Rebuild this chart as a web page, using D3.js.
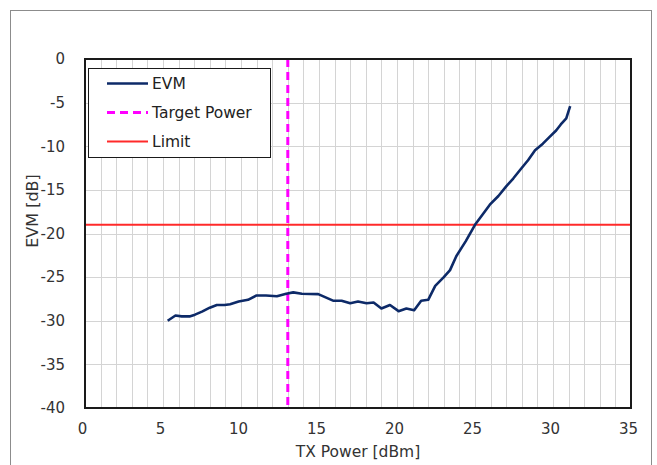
<!DOCTYPE html>
<html><head><meta charset="utf-8">
<script src="https://cdn.jsdelivr.net/npm/d3@7"></script>
<style>body{margin:0;background:#fff;}svg{display:block;font-family:"DejaVu Sans",Verdana,sans-serif;}</style>
</head><body>
<svg id="c" width="657" height="465"></svg>
<script>
const txPower = [5.3,5.8,6.2,6.7,7.05,7.5,8.0,8.45,8.95,9.3,9.85,10.45,11.0,11.6,12.3,12.9,13.35,13.9,14.95,15.9,16.45,17.0,17.5,18.05,18.5,19.0,19.55,20.1,20.6,21.1,21.55,22.0,22.45,23.0,23.4,23.8,24.4,25.0,25.5,25.95,26.5,27.0,27.45,27.9,28.4,28.85,29.35,29.8,30.2,30.5,30.85,31.1];
const evm = [-30.0,-29.4,-29.5,-29.5,-29.3,-28.95,-28.5,-28.2,-28.2,-28.1,-27.8,-27.6,-27.1,-27.1,-27.2,-26.9,-26.75,-26.9,-26.95,-27.7,-27.7,-28.0,-27.8,-28.0,-27.9,-28.6,-28.2,-28.9,-28.6,-28.8,-27.7,-27.6,-26.0,-25.0,-24.2,-22.6,-20.9,-19.0,-17.8,-16.7,-15.7,-14.6,-13.7,-12.7,-11.6,-10.45,-9.7,-8.9,-8.2,-7.5,-6.8,-5.4];
const targetPower = 13.0;
const limitEVM = -19;
const xTicks = [0,5,10,15,20,25,30,35];
const yTicks = [0,-5,-10,-15,-20,-25,-30,-35,-40];
const legendLabels = ["EVM","Target Power","Limit"];

const svg = d3.select("#c");
const L=85, R=631, T=59, B=408;
const x = d3.scaleLinear().domain([0,35]).range([L,R]);
const y = d3.scaleLinear().domain([-40,0]).range([B,T]);
const fmt = d => String(d);

svg.append("rect").attr("x",10.5).attr("y",10.5).attr("width",641).attr("height",460).attr("fill","#fff").attr("stroke","#8c8c8c");

// grid
svg.append("g").selectAll("line").data(d3.range(1,35)).join("line")
  .attr("x1",d=>Math.round(x(d))+0.5).attr("x2",d=>Math.round(x(d))+0.5).attr("y1",T).attr("y2",B)
  .attr("stroke","#d4d4d4").attr("stroke-width",1);
svg.append("g").selectAll("line").data(d3.range(-35,0,5)).join("line")
  .attr("y1",d=>Math.round(y(d))+0.5).attr("y2",d=>Math.round(y(d))+0.5).attr("x1",L).attr("x2",R)
  .attr("stroke","#d4d4d4").attr("stroke-width",1);

// axes labels
const xa = d3.axisBottom(x).tickValues(xTicks).tickFormat(fmt).tickSize(0).tickPadding(15);
const gx = svg.append("g").attr("transform",`translate(0,${B})`).call(xa);
gx.select(".domain").remove();
gx.selectAll("text").attr("font-size",15).attr("fill","#333").attr("dx",-3).attr("font-family","DejaVu Sans, Verdana, sans-serif");
const ya = d3.axisLeft(y).tickValues(yTicks).tickFormat(fmt).tickSize(0).tickPadding(20);
const gy = svg.append("g").attr("transform",`translate(${L},0)`).call(ya);
gy.select(".domain").remove();
gy.selectAll("text").attr("font-size",15).attr("fill","#333").attr("font-family","DejaVu Sans, Verdana, sans-serif");

svg.append("text").attr("x",(L+R)/2).attr("y",457).attr("text-anchor","middle").attr("font-size",15.5).attr("fill","#333").text("TX Power [dBm]");
svg.append("text").attr("transform",`translate(38,211) rotate(-90)`).attr("text-anchor","middle").attr("font-size",16).attr("fill","#333").text("EVM [dB]");

// limit
svg.append("line").attr("x1",L).attr("x2",R).attr("y1",y(limitEVM)).attr("y2",y(limitEVM)).attr("stroke","#ff2a2a").attr("stroke-width",2);
// target
svg.append("line").attr("x1",x(targetPower)).attr("x2",x(targetPower)).attr("y1",T).attr("y2",B).attr("stroke","#ff00ff").attr("stroke-width",3).attr("stroke-dasharray","8,5");
// evm
const data = txPower.map((d,i)=>[d,evm[i]]);
svg.append("path").datum(data).attr("fill","none").attr("stroke","#0d2a68").attr("stroke-width",2.6).attr("stroke-linejoin","round")
  .attr("d",d3.line().x(d=>x(d[0])).y(d=>y(d[1])));

// frame
svg.append("rect").attr("x",L).attr("y",T).attr("width",R-L).attr("height",B-T).attr("fill","none").attr("stroke","#1a1a1a").attr("stroke-width",2);

// legend
const lg = svg.append("g");
lg.append("rect").attr("x",88.5).attr("y",68.5).attr("width",182).attr("height",89).attr("fill","#fff").attr("stroke","#1a1a1a").attr("stroke-width",1);
const styles = [{c:"#0d2a68",w:2.6,d:null},{c:"#ff00ff",w:3,d:"8,5"},{c:"#ff2a2a",w:2,d:null}];
const rowsY = [83.5,112.5,141.5];
legendLabels.forEach((t,i)=>{
  const l = lg.append("line").attr("x1",107).attr("x2",148).attr("y1",rowsY[i]).attr("y2",rowsY[i]).attr("stroke",styles[i].c).attr("stroke-width",styles[i].w);
  if(styles[i].d) l.attr("stroke-dasharray",styles[i].d);
  lg.append("text").attr("x",152).attr("y",rowsY[i]+5.5).attr("font-size",15.5).attr("fill","#222").text(t);
});
</script>
</body></html>
